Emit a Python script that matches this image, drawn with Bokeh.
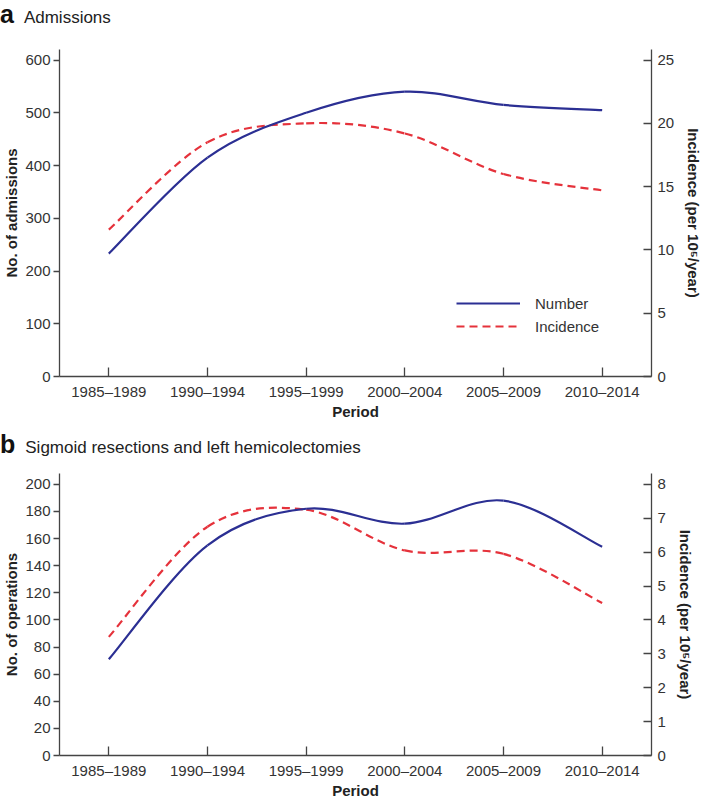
from bokeh.plotting import figure
from bokeh.models import (Range1d, LinearAxis, FixedTicker, Legend, LegendItem,
                          ColumnDataSource, Div)
from bokeh.layouts import column
from bokeh.embed import file_html
from bokeh.resources import INLINE

periods = ["1985–1989", "1990–1994", "1995–1999", "2000–2004", "2005–2009", "2010–2014"]
adm_number = [233, 415, 500, 540, 515, 505]
adm_incidence = [11.6, 18.5, 20.0, 19.2, 16.0, 14.7]
ops_number = [71, 155, 182, 171, 188, 154]
ops_incidence = [3.5, 6.75, 7.25, 6.05, 5.95, 4.5]

adm_left_ticks = [0, 100, 200, 300, 400, 500, 600]
adm_right_ticks = [0, 5, 10, 15, 20, 25]
ops_left_ticks = [0, 20, 40, 60, 80, 100, 120, 140, 160, 180, 200]
ops_right_ticks = [0, 1, 2, 3, 4, 5, 6, 7, 8]

BLUE = "#2B2F93"
RED = "#E5323B"
FONT = "Liberation Sans"
AX = "#444444"
TXT = "#333333"
W = 693


def catmull_segments(xs, ys):
    n = len(xs)
    d = dict(x0=[], y0=[], x1=[], y1=[], cx0=[], cy0=[], cx1=[], cy1=[])
    for i in range(n - 1):
        xm, ym = (xs[i - 1], ys[i - 1]) if i > 0 else (xs[i], ys[i])
        xp, yp = (xs[i + 2], ys[i + 2]) if i + 2 < n else (xs[i + 1], ys[i + 1])
        d["x0"].append(xs[i]); d["y0"].append(ys[i])
        d["x1"].append(xs[i + 1]); d["y1"].append(ys[i + 1])
        d["cx0"].append(xs[i] + (xs[i + 1] - xm) / 6.0)
        d["cy0"].append(ys[i] + (ys[i + 1] - ym) / 6.0)
        d["cx1"].append(xs[i + 1] - (xp - xs[i]) / 6.0)
        d["cy1"].append(ys[i + 1] - (yp - ys[i]) / 6.0)
    return ColumnDataSource(d)


def title_div(letter, title, height, pad_top, line_h):
    html = (
        f'<div style="white-space:nowrap;padding-top:{pad_top}px;line-height:{line_h}px;'
        f'font-family:\'{FONT}\';">'
        f'<span style="font-weight:bold;font-size:25px;color:#111111;">{letter}</span>'
        f'<span style="font-size:17px;color:#222222;margin-left:10px;">{title}</span>'
        f'</div>'
    )
    return Div(text=html, width=W, height=height, margin=(0, 0, 0, 0))


def make_panel(number, incidence, ylabel, ymax, ratio, left_ticks, right_ticks,
               frame_w, frame_h, top, legend=False):
    idx = list(range(len(periods)))
    p = figure(frame_width=frame_w, frame_height=frame_h, output_backend="svg",
               toolbar_location=None,
               x_range=Range1d(-0.5, 5.5), y_range=Range1d(0, ymax),
               min_border_left=0, min_border_right=0,
               min_border_top=top, min_border_bottom=0)
    p.extra_y_ranges = {"inc": Range1d(0, ymax / ratio)}
    p.xgrid.visible = False
    p.ygrid.visible = False
    p.outline_line_color = None

    xa = p.xaxis[0]
    xa.ticker = FixedTicker(ticks=idx)
    xa.major_label_overrides = {i: s for i, s in zip(idx, periods)}
    xa.major_tick_in = 9
    xa.major_tick_out = 0
    xa.minor_tick_line_color = None
    xa.axis_label = "Period"

    ya = p.yaxis[0]
    ya.ticker = FixedTicker(ticks=left_ticks)
    ya.major_tick_in = 0
    ya.major_tick_out = 6
    ya.minor_tick_line_color = None
    ya.axis_label = ylabel

    ra = LinearAxis(y_range_name="inc", ticker=FixedTicker(ticks=right_ticks),
                    axis_label="Incidence (per 10⁵/year)")
    ra.major_tick_in = 8
    ra.major_tick_out = 0
    ra.minor_tick_line_color = None
    p.add_layout(ra, "right")

    for ax in (xa, ya, ra):
        ax.axis_line_color = AX
        ax.axis_line_width = 1.3
        ax.major_tick_line_color = AX
        ax.major_tick_line_width = 1.3
        ax.major_label_text_font = FONT
        ax.major_label_text_font_size = "15px"
        ax.major_label_text_color = TXT
        ax.axis_label_text_font = FONT
        ax.axis_label_text_font_size = "15px"
        ax.axis_label_text_font_style = "bold"
        ax.axis_label_text_color = "#222222"
    xa.major_label_standoff = 6
    xa.axis_label_standoff = 0
    ya.major_label_standoff = 3
    ya.axis_label_standoff = 2
    ra.major_label_standoff = 6
    ra.axis_label_standoff = 8

    src_n = catmull_segments(idx, number)
    src_i = catmull_segments(idx, incidence)
    p.bezier(x0="x0", y0="y0", x1="x1", y1="y1", cx0="cx0", cy0="cy0", cx1="cx1",
             cy1="cy1", source=src_i, line_color=RED, line_width=2.2,
             line_dash="8 5", y_range_name="inc")
    p.bezier(x0="x0", y0="y0", x1="x1", y1="y1", cx0="cx0", cy0="cy0", cx1="cx1",
             cy1="cy1", source=src_n, line_color=BLUE, line_width=2.2)

    if legend:
        ln = p.line(x=[0], y=[float("nan")], line_color=BLUE, line_width=2.2)
        li = p.line(x=[0], y=[float("nan")], line_color=RED, line_width=2.2,
                    line_dash="8 5")
        lg = Legend(items=[LegendItem(label="Number", renderers=[ln]),
                           LegendItem(label="Incidence", renderers=[li])],
                    location=(397, 40), glyph_width=64, glyph_height=20,
                    label_height=20, spacing=3, padding=0, margin=0,
                    label_standoff=15, border_line_color=None,
                    background_fill_alpha=0, label_text_font=FONT,
                    label_text_font_size="15px", label_text_color=TXT)
        p.add_layout(lg, "center")
    return p


ta = title_div("a", "Admissions", 30, 2, 24)
pa = make_panel(adm_number, adm_incidence, "No. of admissions", 620, 24,
                adm_left_ticks, adm_right_ticks, 592, 327, 19, legend=True)
tb = title_div("b", "Sigmoid resections and left hemicolectomies", 34, 10, 24)
pb = make_panel(ops_number, ops_incidence, "No. of operations", 208, 25,
                ops_left_ticks, ops_right_ticks, 592, 282, 17)

layout = column(ta, pa, tb, pb, spacing=0)
open("out.html", "w").write(file_html(layout, INLINE))
